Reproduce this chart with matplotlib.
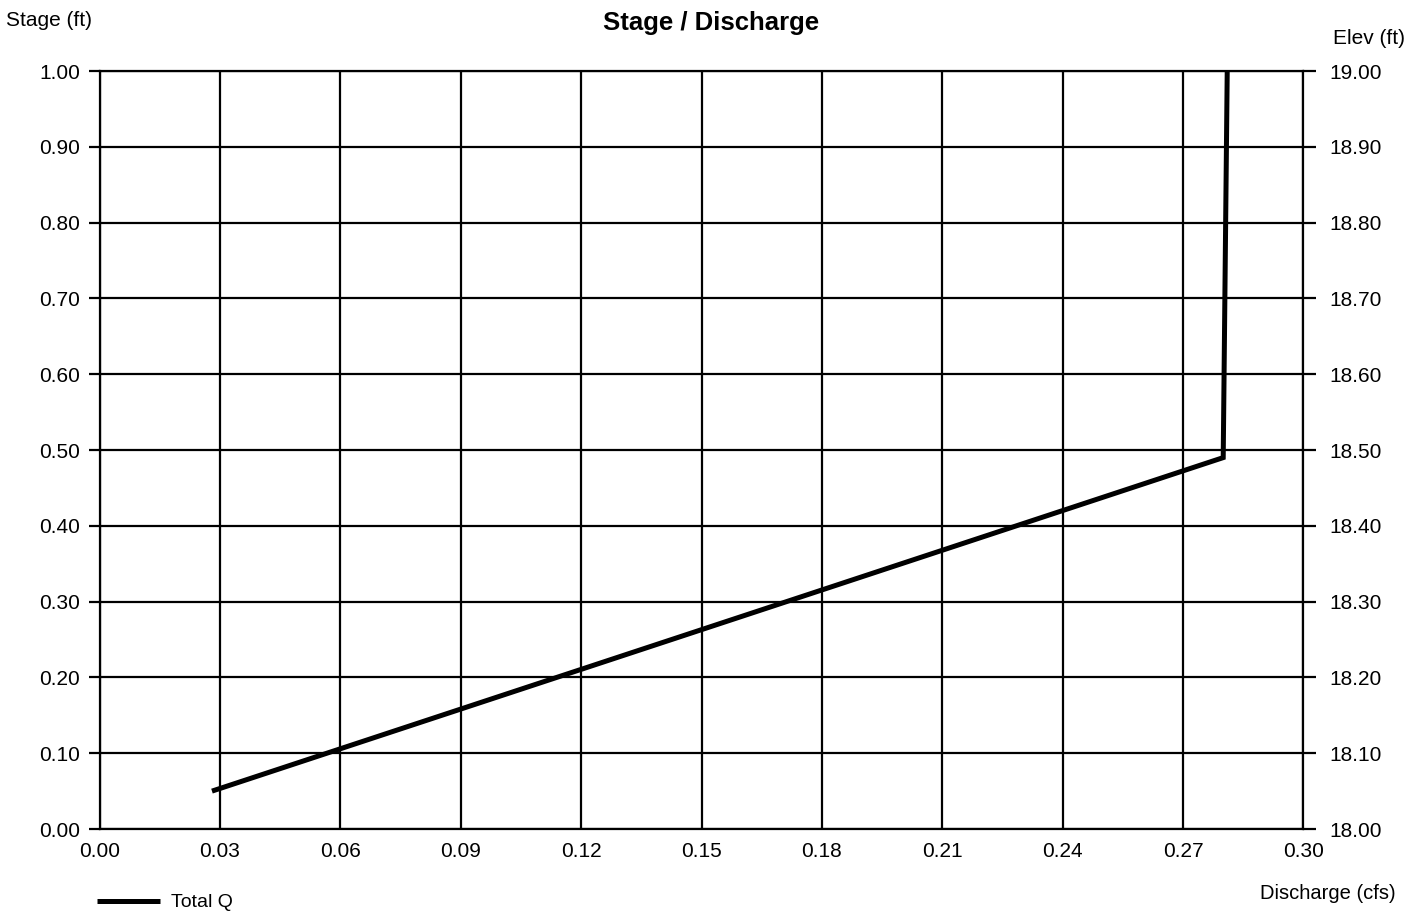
import matplotlib
import matplotlib.pyplot as plt
import numpy as np

matplotlib.use("Agg")

plt.rcParams["font.family"] = ["Liberation Sans", "DejaVu Sans"]

# Total Q curve
discharge_cfs = [0.028, 0.280, 0.281]
stage_ft = [0.05, 0.49, 1.00]

x_ticks = [0.00, 0.03, 0.06, 0.09, 0.12, 0.15, 0.18, 0.21, 0.24, 0.27, 0.30]
stage_ticks = [0.00, 0.10, 0.20, 0.30, 0.40, 0.50, 0.60, 0.70, 0.80, 0.90, 1.00]
elev_ticks = [18.00, 18.10, 18.20, 18.30, 18.40, 18.50, 18.60, 18.70, 18.80, 18.90, 19.00]

fig = plt.figure(figsize=(14.23, 9.11), dpi=100)
axis = fig.add_axes([0.070, 0.090, 0.846, 0.832])

axis.plot(discharge_cfs, stage_ft, color="black", linewidth=3.6,
          solid_capstyle="butt", solid_joinstyle="miter", label="Total Q", zorder=3)

axis.set_xlim(0.0, 0.30)
axis.set_ylim(0.0, 1.0)
axis.set_xticks(x_ticks)
axis.set_xticklabels([f"{v:.2f}" for v in x_ticks])
axis.set_yticks(stage_ticks)
axis.set_yticklabels([f"{v:.2f}" for v in stage_ticks])
axis.grid(True, color="black", linewidth=1.6)
axis.tick_params(axis="x", length=0, labelsize=15, pad=9)
axis.tick_params(axis="y", length=8, width=1.6, labelsize=15, pad=6)
for spine in axis.spines.values():
    spine.set_linewidth(1.6)

right = axis.twinx()
right.set_ylim(18.0, 19.0)
right.set_yticks(elev_ticks)
right.set_yticklabels([f"{v:.2f}" for v in elev_ticks])
right.tick_params(axis="y", length=9, width=1.6, labelsize=15, pad=10)
for spine in right.spines.values():
    spine.set_visible(False)

fig.text(0.5, 0.975, "Stage / Discharge", ha="center", va="center",
         fontsize=18.5, fontweight="bold")
fig.text(0.004, 0.977, "Stage (ft)", ha="left", va="center", fontsize=15)
fig.text(0.937, 0.958, "Elev (ft)", ha="left", va="center", fontsize=15)
fig.text(0.981, 0.019, "Discharge (cfs)", ha="right", va="center", fontsize=14.5)

legend = axis.legend(loc="center left", bbox_to_anchor=(-0.0025, -0.097),
                     frameon=False, fontsize=14, handlelength=3.25,
                     handletextpad=0.6, borderaxespad=0, borderpad=0)

fig.savefig("out.png", dpi=100)
